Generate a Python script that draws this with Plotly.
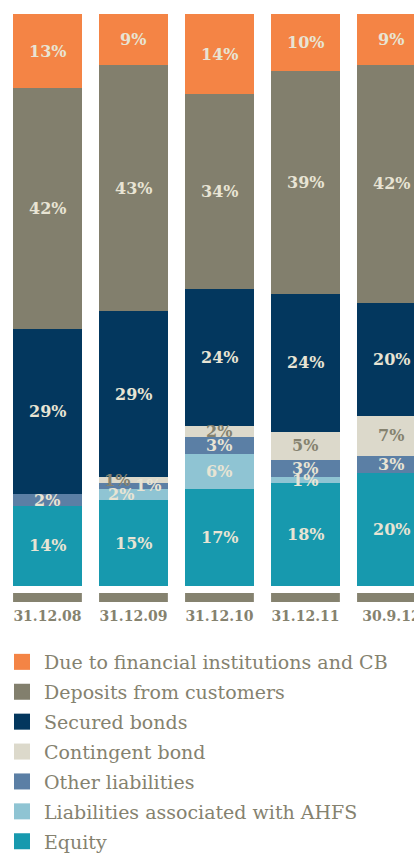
import numpy as np
import plotly.graph_objects as go

# Funding structure, share of total (%)
categories = ["31.12.08", "31.12.09", "31.12.10", "31.12.11", "30.9.12"]
due_to_fi = [13, 9, 14, 10, 9]
deposits = [42, 43, 34, 39, 42]
secured_bonds = [29, 29, 24, 24, 20]
contingent_bond = [0, 1, 2, 5, 7]
other_liab = [2, 1, 3, 3, 3]
ahfs_liab = [0, 2, 6, 1, 0]
equity = [14, 15, 17, 18, 20]

# stacked bottom -> top
series = [
    ("Equity", equity, "#1799AE", "#E8E4D4"),
    ("Liabilities associated with AHFS", ahfs_liab, "#8FC4D3", "#E8E4D4"),
    ("Other liabilities", other_liab, "#5B7FA5", "#E8E4D4"),
    ("Contingent bond", contingent_bond, "#DCD9CB", "#85826F"),
    ("Secured bonds", secured_bonds, "#03375E", "#E8E4D4"),
    ("Deposits from customers", deposits, "#827F6D", "#E8E4D4"),
    ("Due to financial institutions and CB", due_to_fi, "#F48445", "#E8E4D4"),
]

# horizontal nudges for labels on very thin segments
label_shift = {("Contingent bond", 1): (-16, 0),
               ("Other liabilities", 1): (15, 0),
               ("Liabilities associated with AHFS", 1): (-12, 0)}

LABEL_FONT = "DejaVu Serif"
BAR_WIDTH = 0.8

fig = go.Figure()
for name, vals, color, _ in series:
    fig.add_trace(go.Bar(x=categories, y=vals, name=name, marker_color=color,
                         marker_line_width=0, width=BAR_WIDTH, showlegend=False,
                         hoverinfo="skip"))

# legend entries (top -> bottom) with larger square swatches
for name, _, color, _ in reversed(series):
    fig.add_trace(go.Scatter(x=[None], y=[None], mode="markers", name=name,
                             legendgroup=name,
                             marker=dict(symbol="square", size=16, color=color)))

# value labels at the middle of every segment (bars normalised to 100%)
data = np.array([s[1] for s in series], dtype=float)
shares = data / data.sum(axis=0) * 100
tops = np.cumsum(shares, axis=0)
mids = tops - shares / 2
annotations = []
for k, (name, vals, _, txtcol) in enumerate(series):
    for i, v in enumerate(vals):
        if v <= 0:
            continue
        dx, dy = label_shift.get((name, i), (0, 0))
        annotations.append(dict(x=i, y=mids[k, i], xref="x", yref="y",
                                text=f"{v}%", showarrow=False, xshift=dx, yshift=dy,
                                font=dict(family=LABEL_FONT, size=16, color=txtcol,
                                          weight="bold")))

# grey base strip under each column
shapes = []
for i in range(len(categories)):
    shapes.append(dict(type="rect", xref="x", yref="paper",
                       x0=i - BAR_WIDTH / 2, x1=i + BAR_WIDTH / 2,
                       y0=-0.0122, y1=-0.028, fillcolor="#85826F",
                       line=dict(width=0), layer="above"))

fig.update_layout(
    width=414, height=853,
    margin=dict(l=0, r=0, t=14, b=267, autoexpand=False),
    paper_bgcolor="white", plot_bgcolor="white",
    barmode="stack", barnorm="percent",
    annotations=annotations, shapes=shapes,
    xaxis=dict(type="category", range=[-0.552, 4.262], showgrid=False,
               zeroline=False, showline=False, ticks="", ticklabelstandoff=20,
               tickangle=0, automargin=False,
               tickfont=dict(family=LABEL_FONT, size=14, color="#85826F",
                             weight="bold")),
    yaxis=dict(range=[0, 100], visible=False, fixedrange=True),
    legend=dict(xref="container", yref="container", x=0, y=1 - 643 / 853,
                xanchor="left", yanchor="top", tracegroupgap=2.2, itemwidth=34,
                font=dict(family=LABEL_FONT, size=19, color="#85826F"),
                bgcolor="rgba(0,0,0,0)"),
    showlegend=True,
)

fig.write_html("out.html")
